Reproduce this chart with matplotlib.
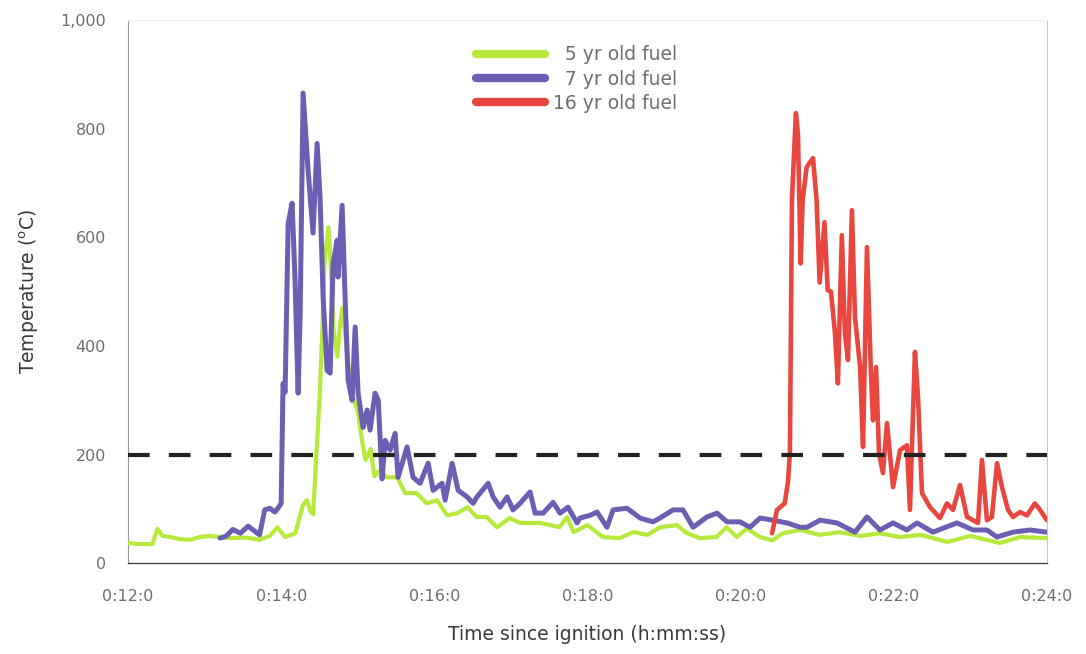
import numpy as np
import matplotlib
matplotlib.use('Agg')
import matplotlib.pyplot as plt
from matplotlib.ticker import FuncFormatter

# time since ignition in seconds, temperature in deg C
t_5yr = [720, 729, 739, 743, 747, 753, 761, 769, 776, 784, 792, 800, 812, 823, 831, 837,
         843, 851, 855, 857, 860, 863, 865, 867, 870, 872, 874, 877, 879, 881, 884, 886,
         888, 891, 894, 897, 900, 903, 906, 910, 913, 917, 923, 931, 937, 946, 954, 962,
         970, 978, 986, 993, 1001, 1009, 1019, 1027, 1043, 1058, 1064, 1069, 1080, 1092,
         1105, 1116, 1127, 1137, 1150, 1158, 1168, 1181, 1189, 1197, 1205, 1215, 1225,
         1233, 1247, 1262, 1278, 1294, 1309, 1325, 1341, 1362, 1380, 1403, 1419, 1440]
temp_5yr = [37, 35, 35, 63, 50, 48, 44, 43, 48, 50, 48, 46, 47, 43, 50, 66,
            48, 55, 90, 107, 116, 95, 90, 180, 300, 420, 560, 619, 540, 430, 380, 440,
            470, 400, 330, 300, 280, 230, 190, 210, 160, 170, 158, 158, 129, 129, 110, 116,
            88, 92, 103, 85, 85, 66, 83, 74, 74, 66, 85, 57, 70, 48,
            46, 57, 52, 66, 70, 55, 46, 48, 66, 48, 64, 48, 42,
            55, 61, 52, 57, 50, 55, 48, 52, 39, 50, 37, 48, 46]

t_7yr = [792, 797, 802, 808, 814, 818, 823, 827, 831, 835, 838, 839.9, 841.4, 843.0,
         845.4, 848.5, 850.8, 853.2, 854.8, 857.1, 861.0, 864.9, 868.1, 870.4, 872.8,
         875.9, 878.3, 880.6, 883.8, 884.5, 887.7, 890.0, 892.4, 895.5, 897.9, 900.2,
         904.1, 907.3, 909.6, 913.5, 916.0, 919.0, 921.4, 925.3, 929.2, 931.5, 938.6,
         943.3, 948.8, 955.1, 959.0, 966.0, 968.4, 973.9, 978.6, 985.6, 990.3, 993.4,
         1002.1, 1006.0, 1011.5, 1017.0, 1021.6, 1027.1, 1035.0, 1038.9, 1045.2, 1053.0,
         1058.5, 1064.7, 1071.8, 1074.1, 1082.0, 1087.5, 1095.3, 1100.0, 1111.0, 1121.2,
         1131.3, 1136.8, 1147.0, 1154.8, 1162.7, 1173.6, 1181.5, 1189.3, 1199.5, 1207.3,
         1215.2, 1225.4, 1236.3, 1246.5, 1252.0, 1262.2, 1275.5, 1289.6, 1299.0, 1309.2,
         1319.4, 1330.3, 1338.2, 1350.7, 1369.5, 1382.1, 1393.0, 1400.9, 1413.4, 1426.7, 1440.0]
temp_7yr = [46, 50, 62, 55, 68, 61, 52, 98, 101, 94, 103, 110, 331, 315,
            626, 663, 521, 313, 460, 866, 724, 608, 773, 674, 490,
            355, 350, 552, 595, 527, 659, 490, 337, 300, 435, 313,
            250, 282, 245, 313, 300, 155, 226, 208, 239, 158, 214,
            158, 147, 184, 134, 147, 116, 184, 134, 122, 110, 122,
            147, 122, 103, 122, 98, 110, 131, 92, 92, 112,
            92, 103, 74, 83, 88, 94, 66, 98, 101, 83,
            76, 83, 98, 98, 66, 85, 92, 76, 76, 66,
            83, 79, 74, 66, 66, 79, 74, 57, 85, 61,
            74, 61, 74, 57, 74, 61, 61, 48, 57, 61, 57]

t_16yr = [1224.6, 1228.5, 1234.5, 1237.1, 1238.6, 1240.2, 1243.3, 1244.9, 1247.0, 1248.6,
          1251.7, 1254.0, 1256.7, 1259.5, 1261.9, 1265.7, 1268.2, 1270.8, 1273.9, 1276.2,
          1279.3, 1281.7, 1284.1, 1287.2, 1289.6, 1293.6, 1295.9, 1299.0, 1302.2, 1303.7,
          1306.1, 1308.4, 1311.5, 1314.7, 1319.4, 1324.9, 1330.3, 1332.7, 1336.6, 1339.0,
          1342.1, 1348.4, 1356.2, 1361.7, 1366.4, 1371.9, 1377.4, 1382.1, 1386.0, 1389.1,
          1393.0, 1396.9, 1400.9, 1404.8, 1409.5, 1413.4, 1418.9, 1424.4, 1430.6, 1434.6, 1440.0]
temp_16yr = [55, 98, 110, 150, 203, 669, 829, 792, 552, 669,
             729, 737, 746, 669, 517, 628, 503, 500, 424, 331,
             604, 424, 374, 650, 453, 361, 214, 582, 343, 263,
             361, 203, 166, 258, 140, 208, 217, 98, 389, 306,
             129, 103, 83, 110, 98, 144, 85, 79, 74, 190,
             79, 85, 184, 140, 98, 85, 94, 88, 110, 98, 79]

labels = ['\u20075 yr old fuel', '\u20077 yr old fuel', '16 yr old fuel']
colors = ['#b6e93c', '#6a5fb3', '#e8463e']
threshold = 200

fig = plt.figure(figsize=(10.86, 6.54), dpi=100)
ax = fig.add_axes([0.118, 0.139, 0.846, 0.830])

ax.plot(t_5yr, temp_5yr, color=colors[0], lw=3.0, label=labels[0], zorder=3,
        solid_joinstyle='round', solid_capstyle='round')
ax.plot(t_7yr, temp_7yr, color=colors[1], lw=3.6, label=labels[1], zorder=4,
        solid_joinstyle='round', solid_capstyle='round')
ax.plot(t_16yr, temp_16yr, color=colors[2], lw=3.3, label=labels[2], zorder=5,
        solid_joinstyle='round', solid_capstyle='round')
ax.axhline(threshold, color='#222222', lw=3, dashes=(5.2, 4.6), zorder=6)

ax.set_xlim(720, 1440)
ax.set_ylim(0, 1000)
ax.set_xticks(np.arange(720, 1441, 120))
ax.set_yticks(np.arange(0, 1001, 200))
ax.xaxis.set_major_formatter(FuncFormatter(lambda v, p: '0:%d:0' % int(round(v / 60))))
ax.yaxis.set_major_formatter(FuncFormatter(lambda v, p: '{:,}'.format(int(v))))
ax.tick_params(axis='both', length=0, labelsize=11.5, labelcolor='#6e6e6e')
ax.tick_params(axis='x', pad=19)
ax.tick_params(axis='y', pad=16)

ax.spines['left'].set_color('#9a9a9a')
ax.spines['left'].set_linewidth(0.8)
ax.spines['bottom'].set_color('#444444')
ax.spines['bottom'].set_linewidth(1.0)
ax.spines['right'].set_color('#c8c8c8')
ax.spines['right'].set_linewidth(0.8)
ax.spines['top'].set_color('#eeeeee')
ax.spines['top'].set_linewidth(0.8)

ax.set_xlabel('Time since ignition (h:mm:ss)', fontsize=13.5, color='#3a3a3a', labelpad=15)
ax.set_ylabel('Temperature ($\\mathregular{^o}$C)', fontsize=13.5, color='#3a3a3a', labelpad=14)

leg = ax.legend(loc='upper left', bbox_to_anchor=(0.36, 0.985), frameon=False,
                fontsize=13.5, handlelength=3.7, handletextpad=0.4, labelspacing=0.28)
for line in leg.get_lines():
    line.set_linewidth(6)
    line.set_solid_capstyle('round')
for txt in leg.get_texts():
    txt.set_color('#6e6e6e')

plt.savefig('out.png', dpi=100)
